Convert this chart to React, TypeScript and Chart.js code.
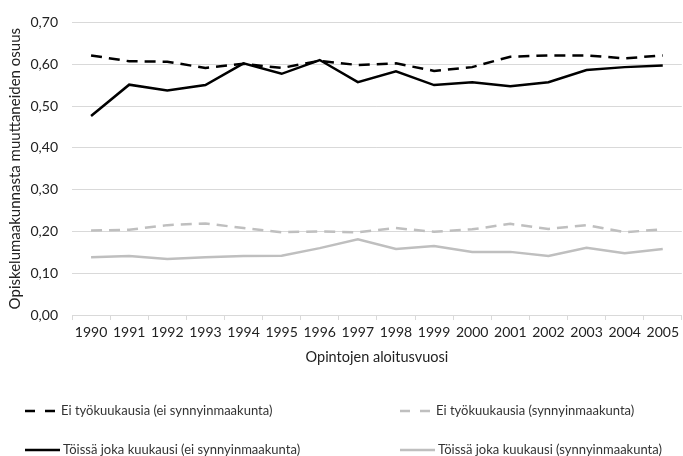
import React, { useEffect, useRef } from "react";
import { Chart, registerables } from "chart.js";

Chart.register(...registerables);

const years = ["1990","1991","1992","1993","1994","1995","1996","1997","1998","1999","2000","2001","2002","2003","2004","2005"];
const eiTyoEiSyn = [0.621,0.607,0.606,0.591,0.601,0.591,0.608,0.598,0.602,0.584,0.593,0.618,0.621,0.621,0.614,0.621];
const eiTyoSyn = [0.202,0.204,0.215,0.219,0.208,0.198,0.200,0.198,0.208,0.199,0.205,0.218,0.206,0.215,0.198,0.205];
const toissaEiSyn = [0.476,0.551,0.537,0.550,0.602,0.577,0.610,0.557,0.583,0.550,0.557,0.547,0.557,0.586,0.593,0.597];
const toissaSyn = [0.138,0.141,0.134,0.138,0.141,0.142,0.160,0.181,0.158,0.165,0.151,0.151,0.141,0.161,0.148,0.158];

const labels = [
  "Ei työkuukausia (ei synnyinmaakunta)",
  "Ei työkuukausia (synnyinmaakunta)",
  "Töissä joka kuukausi (ei synnyinmaakunta)",
  "Töissä joka kuukausi (synnyinmaakunta)",
];

const FONT = "Lato, 'Open Sans', sans-serif";
const BLACK = "#000000";
const GRAY = "#bfbfbf";
const DASH = [11, 7];

export default function App() {
  const ref = useRef<HTMLCanvasElement>(null);
  useEffect(() => {
    document.body.style.margin = "0";
    const legendPlugin = {
      id: "gridLegend",
      afterDraw(chart: any) {
        const ctx = chart.ctx;
        ctx.save();
        const colX = [25, 400];
        const rowY = [411, 450];
        chart.data.datasets.forEach((d: any, i: number) => {
          const col = i % 2;
          const row = Math.floor(i / 2);
          const x = colX[col];
          const y = rowY[row];
          const dashed = (d.borderDash || []).length > 0;
          ctx.strokeStyle = d.borderColor;
          ctx.lineWidth = 2.5;
          ctx.setLineDash(dashed ? [10, 10] : []);
          ctx.beginPath();
          ctx.moveTo(x, y);
          ctx.lineTo(x + (dashed ? 30 : 35), y);
          ctx.stroke();
          ctx.setLineDash([]);
          ctx.fillStyle = "#333";
          ctx.font = `13px ${FONT}`;
          ctx.textBaseline = "middle";
          ctx.textAlign = "left";
          ctx.fillText(d.label, x + (dashed ? 36 : 38), y);
        });
        ctx.restore();
      },
    };
    const chart = new Chart(ref.current!, {
      type: "line",
      data: {
        labels: years,
        datasets: [
          { label: labels[0], data: eiTyoEiSyn, borderColor: BLACK, backgroundColor: BLACK, borderDash: DASH, borderWidth: 2.5, pointRadius: 0, tension: 0 },
          { label: labels[1], data: eiTyoSyn, borderColor: GRAY, backgroundColor: GRAY, borderDash: DASH, borderWidth: 2.5, pointRadius: 0, tension: 0 },
          { label: labels[2], data: toissaEiSyn, borderColor: BLACK, backgroundColor: BLACK, borderWidth: 2.5, pointRadius: 0, tension: 0 },
          { label: labels[3], data: toissaSyn, borderColor: GRAY, backgroundColor: GRAY, borderWidth: 2.5, pointRadius: 0, tension: 0 },
        ],
      },
      options: {
        responsive: false,
        animation: false,
        layout: { padding: { top: 20, right: 0, bottom: 90, left: 0 } },
        plugins: { legend: { display: false }, tooltip: { enabled: false } },
        scales: {
          x: {
            offset: true,
            grid: { display: true, drawOnChartArea: false, offset: true, tickLength: 5, color: "#d9d9d9" },
            border: { display: true, color: "#d9d9d9" },
            ticks: { color: "#222", font: { family: FONT, size: 14 }, maxRotation: 0, autoSkip: false, padding: 4 },
            title: { display: true, text: "Opintojen aloitusvuosi", color: "#222", font: { family: FONT, size: 14.5 }, padding: { top: 0, bottom: 0 } },
            afterFit: (s: any) => { s.height = 51; },
          },
          y: {
            min: 0,
            max: 0.7,
            ticks: {
              stepSize: 0.1,
              color: "#222",
              font: { family: FONT, size: 14 },
              padding: 14,
              callback: (v: any) => Number(v).toFixed(2).replace(".", ","),
            },
            grid: { color: "#d9d9d9", drawTicks: false },
            border: { display: false },
            title: { display: true, text: "Opiskelumaakunnasta muuttaneiden osuus", color: "#222", font: { family: FONT, size: 15 }, padding: { top: 6, bottom: 0 } },
            afterFit: (s: any) => { s.width = 72; },
          },
        },
      },
      plugins: [legendPlugin],
    });
    return () => chart.destroy();
  }, []);
  return (
    <div style={{ position: "absolute", left: 0, top: 0, width: 683, height: 456 }}>
      <canvas ref={ref} width={683} height={456} style={{ display: "block", width: 683, height: 456 }} />
    </div>
  );
}
